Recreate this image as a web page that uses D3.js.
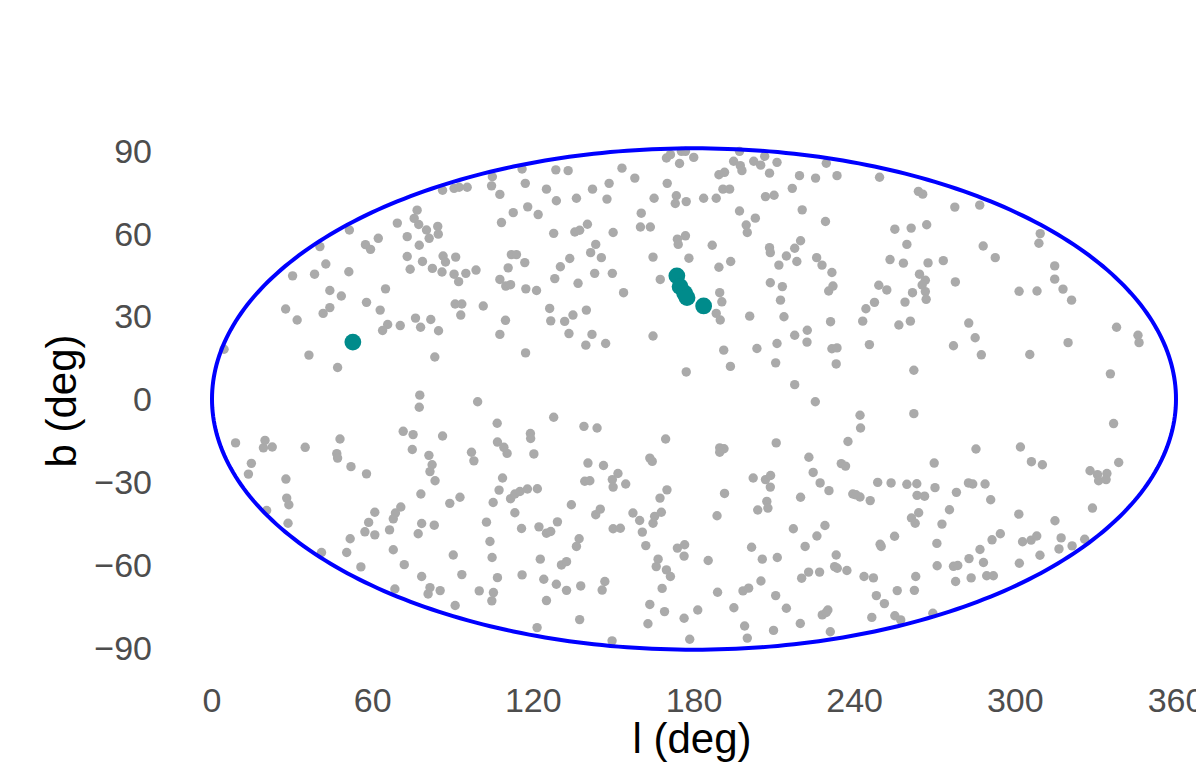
<!DOCTYPE html>
<html><head><meta charset="utf-8">
<script src="https://cdn.jsdelivr.net/npm/d3@7"></script>
<style>body{margin:0;background:#fff}svg{display:block}</style>
</head><body><svg id="c" width="1196" height="764"></svg>
<script>
const xTicks = [0, 60, 120, 180, 240, 300, 360];
const yTicks = [90, 60, 30, 0, -30, -60, -90];
const xTitle = "l (deg)";
const yTitle = "b (deg)";
// field sources [l, b] in degrees
const fieldPoints = [
[115.8,83.3],[104.7,80.5],[104.4,77.2],[107.5,74.1],[117.0,78.1],[86.1,75.6],[90.4,76.3],[92.3,76.7],[95.3,76.7],[76.6,68.4],[75.5,65.4],[77.2,63.2],[80.1,61.2],[84.3,62.5],[84.5,59.7],[81.1,58.2],[69.2,63.7],[72.9,58.8],[77.4,55.7],[62.1,58.2],[57.3,55.9],[59.2,54.2],[51.3,61.2],[40.3,55.2],[42.5,48.9],[30.1,44.6],[38.3,45.2],[51.1,46.1],[44.0,39.3],[48.3,37.3],[64.8,39.9],[72.9,51.6],[78.6,49.8],[74.0,47.0],[82.3,47.3],[85.9,46.0],[86.3,51.8],[87.2,49.6],[91.0,51.4],[90.4,45.2],[92.1,42.5],[94.8,45.5],[98.6,46.7],[112.5,67.5],[108.1,63.9],[117.9,69.6],[111.8,52.3],[113.7,52.3],[116.8,49.4],[110.6,47.5],[107.5,43.3],[109.7,40.9],[111.5,41.4],[117.2,39.9],[27.5,32.6],[31.8,28.6],[41.5,31.0],[44.0,33.1],[57.7,35.0],[62.8,32.2],[65.6,27.0],[63.7,24.8],[70.3,26.6],[76.0,29.3],[77.9,26.0],[81.7,28.8],[84.6,24.7],[90.8,34.4],[93.3,34.4],[92.9,30.4],[101.3,33.7],[109.6,28.5],[107.5,23.4],[4.5,18.0],[36.2,15.9],[46.9,11.4],[83.2,15.2],[117.1,16.7],[77.6,1.4],
[169.7,87.3],[171.2,88.5],[175.3,89.7],[176.8,89.7],[174.6,85.3],[179.9,87.5],[197.0,89.7],[194.8,86.1],[197.3,84.5],[197.9,82.7],[202.3,86.1],[204.9,84.7],[206.4,87.9],[211.0,85.7],[208.2,81.8],[229.4,85.4],[233.4,80.9],[225.4,80.0],[219.4,80.9],[216.7,76.3],[128.4,83.0],[133.0,82.7],[153.1,83.6],[157.9,80.0],[124.9,76.0],[128.6,71.8],[136.1,72.7],[142.1,76.0],[148.3,78.1],[147.5,72.4],[121.8,66.8],[165.1,72.7],[170.0,78.1],[173.4,73.6],[173.0,70.8],[177.1,71.5],[183.6,72.7],[188.3,72.7],[189.3,81.2],[191.4,82.1],[190.8,76.0],[193.3,76.0],[206.7,73.3],[209.9,73.8],[197.0,68.1],[202.9,65.5],[199.5,63.0],[199.9,60.3],[220.4,68.5],[229.1,64.3],[160.3,67.3],[160.0,62.3],[163.7,62.3],[127.6,60.0],[135.5,60.5],[137.3,61.1],[140.2,63.3],[149.8,60.3],[143.3,56.0],[141.4,53.0],[145.4,51.2],[133.6,50.9],[130.1,47.9],[173.8,57.9],[176.8,59.1],[174.1,56.0],[186.8,55.7],[164.7,51.4],[178.1,51.0],[189.3,47.7],[193.7,49.8],[208.2,54.8],[208.5,53.0],[214.5,51.8],[217.6,54.6],[219.8,57.3],[218.4,49.8],[211.7,48.5],[225.8,51.2],[227.8,48.5],[231.5,45.8],[128.0,43.6],[136.7,41.9],[142.9,45.5],[149.5,45.5],[153.7,38.5],[167.4,43.3],[121.2,39.3],[208.5,42.1],[213.0,40.7],[212.3,35.8],[230.3,39.1],[231.9,40.9],[189.6,38.5],[190.4,35.2],[188.3,31.0],[189.8,28.6],[200.8,30.0],[213.6,29.8],[126.1,32.8],[126.5,28.3],[131.7,28.1],[134.8,30.4],[139.8,32.2],[133.3,23.7],[141.9,23.4],[139.6,19.5],[147.0,20.1],[164.7,22.8],[231.0,28.0],[222.3,24.9],[217.6,23.1],[222.2,20.6],[211.0,20.1],[203.5,18.3],[191.1,17.7],[193.6,11.8],[210.5,13.1],[231.5,18.2],[233.4,18.5],[233.1,12.7],[177.1,9.8],[217.6,5.2],
[249.3,80.3],[263.8,75.2],[265.4,74.2],[277.4,69.5],[286.7,70.2],[255.0,61.5],[261.1,61.9],[266.9,63.1],[259.5,56.0],[288.0,55.4],[292.5,51.2],[309.3,59.9],[308.8,56.4],[253.2,50.5],[258.2,49.2],[267.4,49.3],[273.1,50.1],[264.2,45.2],[266.4,43.0],[265.2,41.3],[266.4,38.9],[266.7,36.1],[249.0,41.2],[252.0,39.5],[261.6,38.5],[258.8,35.1],[247.4,35.0],[244.2,32.7],[243.0,28.2],[277.6,42.4],[301.4,39.0],[308.1,39.1],[314.7,48.2],[314.7,43.4],[317.8,39.8],[321.0,35.8],[256.5,26.8],[260.8,28.2],[282.6,27.5],[285.0,22.2],[276.9,19.3],[287.3,16.0],[245.5,19.7],[305.4,16.1],[319.7,20.4],[337.8,26.0],[345.8,23.1],[346.2,20.4],[262.1,10.4],[335.5,9.1],
[77.4,-3.0],[99.2,-1.0],[8.8,-15.9],[19.8,-15.0],[19.2,-17.7],[22.5,-17.4],[34.8,-17.5],[47.8,-14.5],[46.6,-19.8],[46.9,-21.4],[51.9,-24.5],[57.7,-27.1],[14.7,-23.3],[13.6,-27.2],[27.6,-29.0],[27.9,-35.9],[28.7,-38.3],[20.4,-40.4],[28.4,-45.0],[71.4,-11.7],[75.1,-12.9],[86.1,-13.4],[74.8,-18.3],[81.0,-20.4],[82.2,-23.8],[81.4,-26.3],[83.3,-29.6],[96.9,-19.3],[97.8,-22.4],[106.5,-8.8],[106.6,-15.6],[109.0,-17.5],[110.2,-19.7],[108.5,-28.6],[107.2,-33.0],[105.0,-37.5],[111.5,-36.1],[113.1,-34.4],[115.0,-33.5],[78.0,-34.4],[88.8,-37.8],[92.6,-35.6],[113.1,-41.2],[102.5,-44.6],[115.6,-46.9],[60.8,-41.0],[70.5,-39.1],[68.5,-41.3],[67.7,-43.4],[58.5,-44.7],[57.1,-48.1],[60.8,-49.2],[66.3,-47.4],[78.3,-45.1],[83.0,-45.7],[77.0,-48.8],[51.6,-50.6],[50.3,-55.6],[40.9,-55.6],[55.6,-60.8],[67.7,-54.6],[71.8,-60.0],[78.3,-64.3],[81.4,-68.3],[80.7,-70.6],[85.2,-69.4],[90.1,-56.5],[93.3,-63.6],[103.8,-51.6],[104.6,-57.4],[106.6,-64.7],[115.8,-63.7],[99.8,-69.5],[105.1,-70.1],[104.5,-73.1],[68.3,-68.8],[90.8,-74.8],
[225.3,-1.0],[127.6,-6.6],[138.9,-9.9],[143.8,-10.5],[118.9,-12.5],[119.0,-14.3],[120.2,-19.9],[169.4,-14.5],[189.6,-17.7],[191.2,-18.0],[189.6,-19.3],[210.7,-15.9],[237.5,-15.4],[222.9,-21.1],[224.5,-26.6],[227.1,-30.4],[230.4,-33.2],[235.0,-23.4],[236.6,-24.3],[140.4,-23.2],[146.2,-24.1],[149.5,-29.2],[151.6,-27.0],[149.8,-31.9],[154.5,-30.8],[139.2,-29.8],[141.1,-29.6],[163.5,-21.4],[164.4,-22.6],[117.8,-32.6],[121.5,-32.5],[169.9,-32.9],[167.3,-35.9],[191.4,-34.2],[202.1,-28.6],[206.7,-29.2],[208.6,-27.7],[208.5,-31.9],[219.8,-35.6],[239.3,-34.4],[134.2,-38.3],[143.3,-41.9],[145.0,-39.9],[157.2,-41.3],[159.7,-44.0],[160.7,-48.2],[164.7,-45.0],[165.3,-42.5],[167.8,-41.0],[188.6,-42.3],[207.2,-37.1],[207.6,-39.5],[203.8,-40.2],[122.1,-46.3],[124.9,-48.6],[126.5,-48.0],[129.0,-44.5],[149.8,-47.0],[152.5,-46.8],[137.1,-50.6],[136.1,-53.4],[162.0,-53.1],[173.8,-54.0],[176.5,-52.8],[176.3,-56.9],[185.3,-58.5],[201.5,-53.7],[205.5,-58.0],[211.1,-57.4],[217.1,-47.0],[225.9,-49.6],[228.9,-45.8],[221.5,-53.4],[233.1,-56.5],[232.5,-60.7],[233.5,-61.3],[237.1,-62.1],[226.9,-62.7],[222.8,-62.7],[220.2,-64.9],[122.6,-58.0],[123.9,-65.3],[128.6,-67.1],[132.4,-69.3],[137.7,-67.7],[146.7,-66.1],[145.7,-69.2],[130.5,-60.1],[132.4,-58.9],[166.6,-58.0],[165.9,-60.7],[169.7,-61.9],[171.2,-64.3],[124.9,-73.0],[168.1,-68.6],[163.5,-74.4],[169.0,-77.0],[188.8,-70.0],[198.3,-69.5],[200.4,-68.5],[205.0,-65.9],[210.5,-71.2],[214.5,-75.8],[194.9,-75.6],[176.3,-79.4],[181.4,-76.4],[227.9,-78.2],[230.0,-76.4],[229.4,-77.3],[219.7,-81.3],[209.7,-83.8],[230.9,-84.3],[198.9,-82.2],[199.9,-86.6],[137.3,-79.9],[121.4,-82.8],[149.4,-87.6],[162.8,-81.4],[178.4,-87.0],
[242.0,-5.9],[242.2,-10.5],[262.1,-5.3],[285.3,-18.1],[301.9,-17.4],[306.0,-22.7],[310.1,-23.8],[269.7,-23.2],[336.7,-8.9],[338.6,-23.0],[327.9,-26.0],[330.7,-27.4],[334.2,-27.0],[331.1,-29.6],[333.9,-29.2],[328.8,-39.5],[248.6,-30.2],[253.6,-30.4],[259.5,-30.9],[263.2,-30.7],[270.0,-32.1],[266.1,-35.2],[263.3,-34.9],[240.5,-34.7],[242.0,-35.5],[245.8,-36.8],[282.5,-30.4],[284.1,-30.8],[288.7,-30.8],[278.0,-33.8],[290.8,-36.5],[275.4,-40.1],[272.6,-45.3],[263.9,-41.2],[261.2,-43.1],[262.6,-45.0],[301.3,-41.7],[314.8,-44.1],[254.9,-49.7],[249.5,-52.6],[249.9,-53.4],[270.7,-52.3],[294.4,-48.8],[291.3,-51.0],[286.8,-54.5],[282.7,-57.8],[288.1,-59.2],[283.5,-64.8],[289.3,-64.0],[291.8,-64.0],[302.7,-51.7],[305.9,-51.1],[308.0,-49.6],[317.1,-50.3],[316.3,-54.3],[321.2,-53.2],[325.9,-50.8],[309.2,-56.6],[301.5,-59.5],[270.8,-60.4],[276.9,-60.6],[278.5,-60.3],[277.7,-66.1],[243.5,-64.3],[247.0,-64.8],[262.8,-64.3],[262.3,-69.3],[255.9,-69.4],[248.1,-71.2],[251.1,-74.1],[246.4,-79.1],[255.0,-78.5],[257.2,-80.0],[269.2,-77.6]
];
// highlighted sources [l, b]
const targetPoints = [[52.6,20.6],[173.6,44.6],[174.8,40.7],[176.5,38.3],[177.4,36.7],[183.6,33.7]];

const svg = d3.select("#c");
const x = d3.scaleLinear().domain([0, 360]).range([212, 1176]);
const y = d3.scaleLinear().domain([-90, 90]).range([647.5, 150.5]);

// field points
svg.append("g").selectAll("circle").data(fieldPoints).join("circle")
  .attr("cx", d => x(d[0])).attr("cy", d => y(d[1])).attr("r", 4.7)
  .attr("fill", "#aaaaaa");

// sky boundary ellipse
const ang = d3.range(0, 361, 1).map(a => a * Math.PI / 180);
const boundary = ang.map(t => [180 + 180 * Math.cos(t), 90.8 * Math.sin(t)]);
svg.append("path").datum(boundary)
  .attr("d", d3.line().x(d => x(d[0])).y(d => y(d[1])))
  .attr("fill", "none").attr("stroke", "#0000ff").attr("stroke-width", 4);

// highlighted points
svg.append("g").selectAll("circle").data(targetPoints).join("circle")
  .attr("cx", d => x(d[0])).attr("cy", d => y(d[1])).attr("r", 8.4)
  .attr("fill", "#008b8b");

const font = "'Liberation Sans', Arial, Helvetica, sans-serif";
const tickSize = 34;
// x tick labels
svg.append("g").selectAll("text").data(xTicks).join("text")
  .attr("x", d => x(d)).attr("y", 700 + 0.36 * tickSize)
  .attr("text-anchor", "middle").attr("font-family", font)
  .attr("font-size", tickSize).attr("fill", "#4d4d4d").text(d => d);
// y tick labels
svg.append("g").selectAll("text").data(yTicks).join("text")
  .attr("x", 152).attr("y", d => y(d) + 0.36 * tickSize)
  .attr("text-anchor", "end").attr("font-family", font)
  .attr("font-size", tickSize).attr("fill", "#4d4d4d")
  .text(d => d < 0 ? "\u2212" + Math.abs(d) : d);

// axis titles
svg.append("text").attr("x", 692).attr("y", 753)
  .attr("text-anchor", "middle").attr("font-family", font)
  .attr("font-size", 42).attr("fill", "#000").text(xTitle);
svg.append("text").attr("transform", "translate(76,401) rotate(-90)")
  .attr("text-anchor", "middle").attr("font-family", font)
  .attr("font-size", 42).attr("fill", "#000").text(yTitle);
</script>
</body></html>
